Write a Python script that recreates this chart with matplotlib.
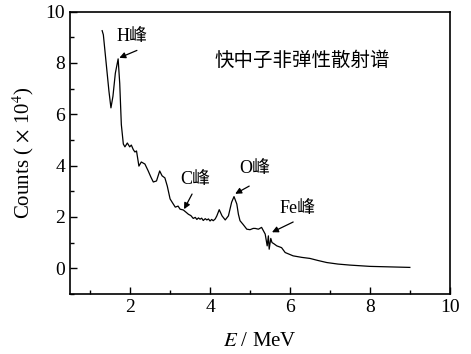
import matplotlib
matplotlib.use("Agg")
import matplotlib.pyplot as plt
from matplotlib.ticker import MultipleLocator

# spectrum (E in MeV, counts in 1e4)
energy = [1.30, 1.33, 1.40, 1.47, 1.52, 1.57, 1.63, 1.70, 1.74, 1.78, 1.83,
          1.87, 1.93, 1.99, 2.03, 2.08, 2.12, 2.16, 2.22, 2.28, 2.37, 2.45,
          2.52, 2.58, 2.66, 2.74, 2.80, 2.87, 2.93, 3.00, 3.06, 3.13, 3.20,
          3.25, 3.33, 3.40, 3.46, 3.52, 3.58, 3.63, 3.67, 3.71, 3.75, 3.79,
          3.83, 3.88, 3.92, 3.96, 4.00, 4.04, 4.08, 4.13, 4.17, 4.23, 4.30,
          4.38, 4.46, 4.54, 4.60, 4.67, 4.71, 4.75, 4.83, 4.92, 5.00, 5.08,
          5.13, 5.21, 5.29, 5.38, 5.43, 5.46, 5.48, 5.52, 5.55, 5.60, 5.67,
          5.79, 5.88, 6.08, 6.30, 6.50, 6.70, 6.92, 7.20, 7.50, 8.00, 8.50,
          9.00]
counts = [9.26, 9.10, 8.00, 6.90, 6.25, 6.70, 7.60, 8.16, 7.20, 5.60, 4.84,
          4.73, 4.88, 4.73, 4.80, 4.62, 4.53, 4.57, 3.98, 4.14, 4.06, 3.80,
          3.55, 3.36, 3.40, 3.79, 3.60, 3.52, 3.20, 2.70, 2.55, 2.38, 2.42,
          2.30, 2.27, 2.18, 2.10, 2.05, 1.94, 1.98, 1.90, 1.96, 1.91, 1.95,
          1.86, 1.93, 1.88, 1.92, 1.84, 1.90, 1.85, 1.92, 2.04, 2.28, 2.04,
          1.88, 2.04, 2.57, 2.79, 2.50, 2.10, 1.85, 1.70, 1.52, 1.50, 1.55,
          1.55, 1.52, 1.59, 1.33, 0.87, 1.26, 0.74, 1.16, 1.00, 0.95, 0.87,
          0.80, 0.61, 0.48, 0.42, 0.38, 0.30, 0.22, 0.16, 0.12, 0.07, 0.05,
          0.03]

# peak labels: text position, arrow tail, arrow head
peak_labels = ["H峰", "C峰", "O峰", "Fe峰"]
label_xy = [(2.05, 9.05), (3.62, 3.45), (5.12, 3.88), (6.20, 2.32)]
arrow_tail = [(2.17, 8.49), (3.55, 2.89), (4.98, 3.20), (6.08, 1.80)]
arrow_head = [(1.73, 8.20), (3.35, 2.30), (4.63, 2.90), (5.55, 1.40)]

title_text = "快中子非弹性散射谱"

fonts = ["Liberation Serif", "Noto Sans CJK SC", "DejaVu Sans"]
plt.rcParams["font.family"] = fonts
plt.rcParams["mathtext.fontset"] = "stix"

fig = plt.figure(figsize=(4.71, 3.54), dpi=100)
ax = fig.add_axes([0.149, 0.170, 0.806, 0.797])

ax.plot(energy, counts, color="black", lw=0.9)

for label, pos, tail, head in zip(peak_labels, label_xy, arrow_tail, arrow_head):
    ax.text(pos[0], pos[1], label, ha="center", va="center", fontsize=13,
            family=fonts)
    ax.annotate("", xy=head, xytext=tail,
                arrowprops=dict(arrowstyle="-|>", color="black", lw=0.9,
                                mutation_scale=9, shrinkA=0, shrinkB=0))

ax.text(6.3, 8.1, title_text, ha="center", va="center", fontsize=14,
        family=fonts)

ax.set_xlim(0.5, 10)
ax.set_ylim(-1, 10)
ax.xaxis.set_major_locator(MultipleLocator(2))
ax.xaxis.set_minor_locator(MultipleLocator(1))
ax.yaxis.set_major_locator(MultipleLocator(2))
ax.yaxis.set_minor_locator(MultipleLocator(1))
ax.tick_params(which="both", direction="in", labelsize=14, width=1)
ax.tick_params(which="major", length=5)
ax.tick_params(which="minor", length=3)
for spine in ax.spines.values():
    spine.set_linewidth(1.2)

ax.set_xlabel("$E$ / MeV", fontsize=15, labelpad=12)
ax.set_ylabel("Counts ( $\\times$ 10$^{4}$)", fontsize=15, labelpad=7)

fig.savefig("out.png", dpi=100)
